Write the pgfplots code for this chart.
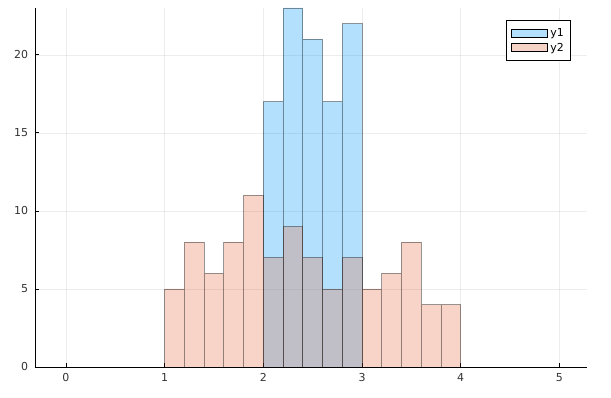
\documentclass[border=0pt]{standalone}
\usepackage{pgfplots}
\pgfplotsset{compat=1.18}
\usepackage{fontspec}
\setmainfont{DejaVu Sans}
\definecolor{c1}{RGB}{0,154,250}
\definecolor{c2}{RGB}{227,111,71}
\begin{document}
\fontsize{11}{13}\selectfont
\begin{tikzpicture}[x=1bp,y=1bp]
\path[use as bounding box] (-35,-30) rectangle (576,367);
\begin{axis}[
  at={(0,0)}, anchor=south west,
  scale only axis, width=552bp, height=359bp,
  xmin=-0.314, xmax=5.28, ymin=0, ymax=23,
  axis x line*=bottom, axis y line*=left,
  axis line style={black, line width=0.9bp, -},
  xtick={0,1,2,3,4,5}, ytick={0,5,10,15,20},
  tick align=inside, major tick length=4bp,
  tick style={black, line width=0.8bp},
  grid=major, grid style={black, opacity=0.07, line width=0.5bp},
  /pgf/number format/assume math mode=true,
  ticklabel style={font=\fontsize{11}{13}\selectfont, text=black!80},
  xticklabel style={yshift=-3bp},
  yticklabel style={xshift=-3bp},
  legend style={at={(1,1)}, anchor=north east, xshift=-16bp, yshift=-12bp,
    draw=black, line width=0.6bp, font=\fontsize{11}{12}\selectfont,
    inner xsep=5bp, inner ysep=6bp, row sep=1bp, cells={anchor=west}},
  legend image code/.code={\draw[#1, draw opacity=1] (0bp,-4bp) rectangle (36bp,4bp);},
]
\addplot[ybar interval, fill=c1, fill opacity=0.3, draw=black, draw opacity=0.4, line width=0.8bp]
  coordinates {(2.0,17)(2.2,23)(2.4,21)(2.6,17)(2.8,22)(3.0,0)};
\addlegendentry{y1}
\addplot[ybar interval, fill=c2, fill opacity=0.3, draw=black, draw opacity=0.4, line width=0.8bp]
  coordinates {(1.0,5)(1.2,8)(1.4,6)(1.6,8)(1.8,11)(2.0,7)(2.2,9)(2.4,7)(2.6,5)(2.8,7)(3.0,5)(3.2,6)(3.4,8)(3.6,4)(3.8,4)(4.0,0)};
\addlegendentry{y2}
\end{axis}
\end{tikzpicture}
\end{document}
